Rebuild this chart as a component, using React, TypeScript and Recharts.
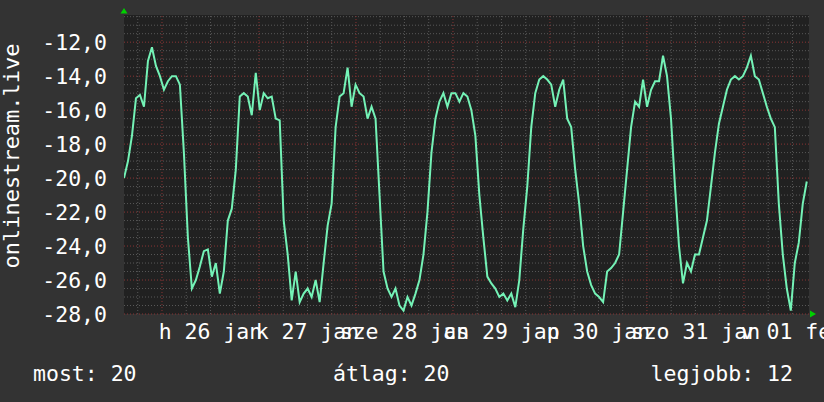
import { CartesianGrid, Line, LineChart, ReferenceDot, ReferenceLine, XAxis, YAxis } from "recharts";

// hours between two samples
const STEP_H = 0.988;

// rank (negated) per sample
const rank = [
  -20.0, -19.0, -17.5, -15.3, -15.1, -15.8, -13.1, -12.3, -13.4, -14.0, -14.8, -14.3, -14.0, -14.0, -14.5, -18.5,
  -23.5, -26.5, -26.0, -25.2, -24.3, -24.2, -25.8, -25.0, -26.8, -25.5, -22.5, -21.8, -19.5, -15.2, -15.0, -15.2,
  -16.3, -13.8, -16.0, -15.0, -15.3, -15.2, -16.5, -16.6, -22.5, -24.5, -27.2, -25.5, -27.3, -26.8, -26.5, -27.0,
  -26.0, -27.3, -25.0, -22.8, -21.5, -17.0, -15.2, -15.0, -13.5, -15.8, -14.5, -15.0, -15.2, -16.5, -15.8, -16.5,
  -21.0, -25.5, -26.5, -27.0, -26.5, -27.5, -27.8, -27.0, -27.5, -26.8, -26.0, -24.5, -22.0, -18.5, -16.5, -15.5,
  -15.0, -15.8, -15.0, -15.0, -15.5, -15.0, -15.2, -16.0, -17.5, -21.0, -23.5, -25.8, -26.2, -26.5, -27.0, -26.8,
  -27.2, -26.8, -27.6, -26.0, -23.0, -20.5, -17.0, -15.0, -14.2, -14.0, -14.2, -14.5, -15.8, -14.8, -14.2, -16.5,
  -17.0, -19.5, -21.5, -24.0, -25.5, -26.3, -26.8, -27.0, -27.3, -25.5, -25.3, -25.0, -24.5, -22.0, -19.5, -17.0,
  -15.5, -15.8, -14.2, -15.8, -14.8, -14.3, -14.3, -12.8, -14.0, -16.5, -20.5, -24.0, -26.2, -25.0, -25.5, -24.5,
  -24.5, -23.5, -22.5, -20.5, -18.5, -16.8, -15.8, -14.8, -14.2, -14.0, -14.2, -14.0, -13.5, -12.8, -14.0, -14.2,
  -15.0, -15.8, -16.5, -17.0, -21.5, -24.5, -26.5, -27.8, -25.0, -23.8, -21.5, -20.2,
];

const dayLabels = ["h 26 jan", "k 27 jan", "sze 28 jan", "cs 29 jan", "p 30 jan", "szo 31 jan", "v 01 feb"];
const firstMidnight = 9.4; // hours from left edge to jan 26 00:00
const yTicks = [-28, -26, -24, -22, -20, -18, -16, -14, -12];
const legend = { most: 20, atlag: 20, legjobb: 12 };

const X_MAX = 169.5;
const Y_MIN = -28;
const Y_MAX = -10.4;

const data = rank.map((v, i) => ({ t: i * STEP_H, v }));
const dayTicks = dayLabels.map((_, i) => firstMidnight + i * 24);
const labelTicks = dayLabels.map((_, i) => firstMidnight + 12 + i * 24);
const minorX: number[] = [];
for (let h = firstMidnight - 6; h < X_MAX; h += 6) if (h > 0) minorX.push(h);
const minorY: number[] = [];
for (let v = -27.5; v < Y_MAX; v += 0.5) minorY.push(v);

const FONT = '"DejaVu Sans Mono", monospace';
const FS = 21.5;

const XTick = (p: any) => {
  const i = labelTicks.findIndex((t) => Math.abs(t - p.payload.value) < 0.01);
  return (
    <text x={p.x} y={339} textAnchor="middle" fill="#fff" fontFamily={FONT} fontSize={FS}>
      {dayLabels[i]}
    </text>
  );
};

const YTick = (p: any) => (
  <text x={107} y={p.y + 8} textAnchor="end" fill="#fff" fontFamily={FONT} fontSize={FS}>
    {p.payload.value.toFixed(1).replace(".", ",")}
  </text>
);

export default function App() {
  return (
    <div style={{ position: "absolute", left: 0, top: 0, width: 824, height: 402, background: "#333333" }}>
      <LineChart width={824} height={402} data={data} margin={{ top: 15, right: 15, bottom: 48, left: 0 }}>
        <CartesianGrid fill="#212121" fillOpacity={1} horizontal={false} vertical={false} />
        <XAxis
          dataKey="t"
          type="number"
          domain={[0, X_MAX]}
          ticks={labelTicks}
          interval={0}
          tick={XTick}
          tickLine={false}
          axisLine={false}
          height={40}
          allowDataOverflow
        />
        <YAxis
          type="number"
          domain={[Y_MIN, Y_MAX]}
          ticks={yTicks}
          interval={0}
          tick={YTick}
          tickLine={false}
          axisLine={false}
          width={124}
          allowDataOverflow
        />
        {minorY.filter((v) => v % 2 !== 0).map((v) => (
          <ReferenceLine key={"my" + v} y={v} stroke="#585858" strokeDasharray="1 2" />
        ))}
        {minorX.filter((h) => !dayTicks.some((d) => Math.abs(d - h) < 0.01)).map((h) => (
          <ReferenceLine key={"mx" + h} x={h} stroke="#585858" strokeDasharray="1 2" />
        ))}
        {yTicks.map((v) => (
          <ReferenceLine key={"My" + v} y={v} stroke="#8a3434" strokeDasharray="1 2" />
        ))}
        {dayTicks.map((h) => (
          <ReferenceLine key={"Mx" + h} x={h} stroke="#8a3434" strokeDasharray="1 2" />
        ))}
        <Line
          type="linear"
          dataKey="v"
          stroke="#74f2b6"
          strokeWidth={2}
          dot={false}
          isAnimationActive={false}
        />
        <ReferenceDot
          x={0}
          y={Y_MAX}
          ifOverflow="visible"
          shape={(p: any) => (
            <polygon points={`${p.cx},${p.cy - 7} ${p.cx - 3.5},${p.cy - 1.5} ${p.cx + 3.5},${p.cy - 1.5}`} fill="#00d000" />
          )}
        />
        <ReferenceDot
          x={X_MAX}
          y={Y_MIN}
          ifOverflow="visible"
          shape={(p: any) => (
            <polygon points={`${p.cx + 1},${p.cy - 3.5} ${p.cx + 1},${p.cy + 3.5} ${p.cx + 7},${p.cy}`} fill="#00d000" />
          )}
        />
      </LineChart>
      <svg width={824} height={402} style={{ position: "absolute", left: 0, top: 0, pointerEvents: "none" }}>
        <text transform="translate(18.5,156) rotate(-90)" textAnchor="middle" fill="#fff" fontFamily={FONT} fontSize={22}>
          onlinestream.live
        </text>
        <text x={33} y={381} fill="#fff" fontFamily={FONT} fontSize={FS}>
          most: {legend.most}
        </text>
        <text x={333} y={381} fill="#fff" fontFamily={FONT} fontSize={FS}>
          átlag: {legend.atlag}
        </text>
        <text x={793} y={381} textAnchor="end" fill="#fff" fontFamily={FONT} fontSize={FS}>
          legjobb: {legend.legjobb}
        </text>
      </svg>
    </div>
  );
}
